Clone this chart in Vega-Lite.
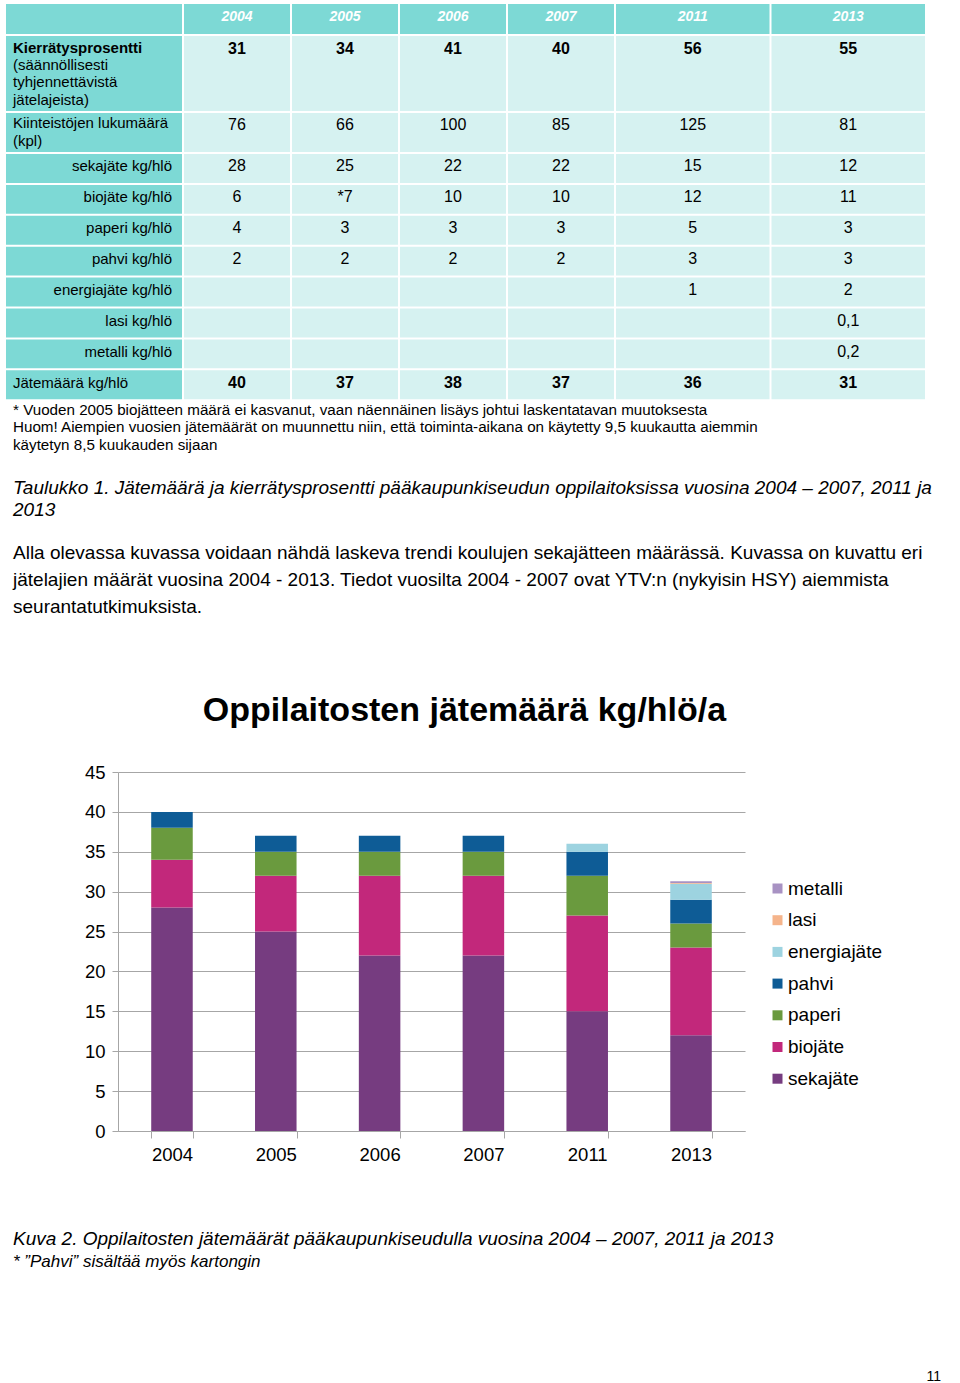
{
  "$schema": "https://vega.github.io/schema/vega-lite/v6.json",
  "background": "white",
  "padding": {"left": 5, "top": 3, "right": 0, "bottom": 0},
  "spacing": 0,
  "config": {"view": {"stroke": null}, "font": "Liberation Sans", "concat": {"spacing": 0}},
  "datasets": {
    "labels": [
      {"section": "header", "row": "header", "label": "", "sub": ""},
      {"section": "kierr", "row": "kierr", "label": "Kierrätysprosentti", "sub": "(säännöllisesti\ntyhjennettävistä\njätelajeista)"},
      {"section": "kiint", "row": "kiint", "label": "Kiinteistöjen lukumäärä\n(kpl)", "sub": ""},
      {"section": "rest", "row": "sekajäte kg/hlö", "label": "sekajäte kg/hlö", "sub": ""},
      {"section": "rest", "row": "biojäte kg/hlö", "label": "biojäte kg/hlö", "sub": ""},
      {"section": "rest", "row": "paperi kg/hlö", "label": "paperi kg/hlö", "sub": ""},
      {"section": "rest", "row": "pahvi kg/hlö", "label": "pahvi kg/hlö", "sub": ""},
      {"section": "rest", "row": "energiajäte kg/hlö", "label": "energiajäte kg/hlö", "sub": ""},
      {"section": "rest", "row": "lasi kg/hlö", "label": "lasi kg/hlö", "sub": ""},
      {"section": "rest", "row": "metalli kg/hlö", "label": "metalli kg/hlö", "sub": ""},
      {"section": "rest", "row": "Jätemäärä kg/hlö", "label": "Jätemäärä kg/hlö", "sub": ""}
    ],
    "cells": [
      {"section": "header", "row": "header", "year": "2004", "value": "2004"},
      {"section": "header", "row": "header", "year": "2005", "value": "2005"},
      {"section": "header", "row": "header", "year": "2006", "value": "2006"},
      {"section": "header", "row": "header", "year": "2007", "value": "2007"},
      {"section": "header", "row": "header", "year": "2011", "value": "2011"},
      {"section": "header", "row": "header", "year": "2013", "value": "2013"},
      {"section": "kierr", "row": "kierr", "year": "2004", "value": "31"},
      {"section": "kierr", "row": "kierr", "year": "2005", "value": "34"},
      {"section": "kierr", "row": "kierr", "year": "2006", "value": "41"},
      {"section": "kierr", "row": "kierr", "year": "2007", "value": "40"},
      {"section": "kierr", "row": "kierr", "year": "2011", "value": "56"},
      {"section": "kierr", "row": "kierr", "year": "2013", "value": "55"},
      {"section": "kiint", "row": "kiint", "year": "2004", "value": "76"},
      {"section": "kiint", "row": "kiint", "year": "2005", "value": "66"},
      {"section": "kiint", "row": "kiint", "year": "2006", "value": "100"},
      {"section": "kiint", "row": "kiint", "year": "2007", "value": "85"},
      {"section": "kiint", "row": "kiint", "year": "2011", "value": "125"},
      {"section": "kiint", "row": "kiint", "year": "2013", "value": "81"},
      {"section": "rest", "row": "sekajäte kg/hlö", "year": "2004", "value": "28"},
      {"section": "rest", "row": "sekajäte kg/hlö", "year": "2005", "value": "25"},
      {"section": "rest", "row": "sekajäte kg/hlö", "year": "2006", "value": "22"},
      {"section": "rest", "row": "sekajäte kg/hlö", "year": "2007", "value": "22"},
      {"section": "rest", "row": "sekajäte kg/hlö", "year": "2011", "value": "15"},
      {"section": "rest", "row": "sekajäte kg/hlö", "year": "2013", "value": "12"},
      {"section": "rest", "row": "biojäte kg/hlö", "year": "2004", "value": "6"},
      {"section": "rest", "row": "biojäte kg/hlö", "year": "2005", "value": "*7"},
      {"section": "rest", "row": "biojäte kg/hlö", "year": "2006", "value": "10"},
      {"section": "rest", "row": "biojäte kg/hlö", "year": "2007", "value": "10"},
      {"section": "rest", "row": "biojäte kg/hlö", "year": "2011", "value": "12"},
      {"section": "rest", "row": "biojäte kg/hlö", "year": "2013", "value": "11"},
      {"section": "rest", "row": "paperi kg/hlö", "year": "2004", "value": "4"},
      {"section": "rest", "row": "paperi kg/hlö", "year": "2005", "value": "3"},
      {"section": "rest", "row": "paperi kg/hlö", "year": "2006", "value": "3"},
      {"section": "rest", "row": "paperi kg/hlö", "year": "2007", "value": "3"},
      {"section": "rest", "row": "paperi kg/hlö", "year": "2011", "value": "5"},
      {"section": "rest", "row": "paperi kg/hlö", "year": "2013", "value": "3"},
      {"section": "rest", "row": "pahvi kg/hlö", "year": "2004", "value": "2"},
      {"section": "rest", "row": "pahvi kg/hlö", "year": "2005", "value": "2"},
      {"section": "rest", "row": "pahvi kg/hlö", "year": "2006", "value": "2"},
      {"section": "rest", "row": "pahvi kg/hlö", "year": "2007", "value": "2"},
      {"section": "rest", "row": "pahvi kg/hlö", "year": "2011", "value": "3"},
      {"section": "rest", "row": "pahvi kg/hlö", "year": "2013", "value": "3"},
      {"section": "rest", "row": "energiajäte kg/hlö", "year": "2004", "value": ""},
      {"section": "rest", "row": "energiajäte kg/hlö", "year": "2005", "value": ""},
      {"section": "rest", "row": "energiajäte kg/hlö", "year": "2006", "value": ""},
      {"section": "rest", "row": "energiajäte kg/hlö", "year": "2007", "value": ""},
      {"section": "rest", "row": "energiajäte kg/hlö", "year": "2011", "value": "1"},
      {"section": "rest", "row": "energiajäte kg/hlö", "year": "2013", "value": "2"},
      {"section": "rest", "row": "lasi kg/hlö", "year": "2004", "value": ""},
      {"section": "rest", "row": "lasi kg/hlö", "year": "2005", "value": ""},
      {"section": "rest", "row": "lasi kg/hlö", "year": "2006", "value": ""},
      {"section": "rest", "row": "lasi kg/hlö", "year": "2007", "value": ""},
      {"section": "rest", "row": "lasi kg/hlö", "year": "2011", "value": ""},
      {"section": "rest", "row": "lasi kg/hlö", "year": "2013", "value": "0,1"},
      {"section": "rest", "row": "metalli kg/hlö", "year": "2004", "value": ""},
      {"section": "rest", "row": "metalli kg/hlö", "year": "2005", "value": ""},
      {"section": "rest", "row": "metalli kg/hlö", "year": "2006", "value": ""},
      {"section": "rest", "row": "metalli kg/hlö", "year": "2007", "value": ""},
      {"section": "rest", "row": "metalli kg/hlö", "year": "2011", "value": ""},
      {"section": "rest", "row": "metalli kg/hlö", "year": "2013", "value": "0,2"},
      {"section": "rest", "row": "Jätemäärä kg/hlö", "year": "2004", "value": "40"},
      {"section": "rest", "row": "Jätemäärä kg/hlö", "year": "2005", "value": "37"},
      {"section": "rest", "row": "Jätemäärä kg/hlö", "year": "2006", "value": "38"},
      {"section": "rest", "row": "Jätemäärä kg/hlö", "year": "2007", "value": "37"},
      {"section": "rest", "row": "Jätemäärä kg/hlö", "year": "2011", "value": "36"},
      {"section": "rest", "row": "Jätemäärä kg/hlö", "year": "2013", "value": "31"}
    ],
    "footnote": [
      {"line": 1, "text": "* Vuoden 2005 biojätteen määrä ei kasvanut, vaan näennäinen lisäys johtui laskentatavan muutoksesta"},
      {"line": 2, "text": "Huom! Aiempien vuosien jätemäärät on muunnettu niin, että toiminta-aikana on käytetty 9,5 kuukautta aiemmin"},
      {"line": 3, "text": "käytetyn 8,5 kuukauden sijaan"}
    ],
    "tablecaption": [
      {"line": 1, "text": "Taulukko 1. Jätemäärä ja kierrätysprosentti pääkaupunkiseudun oppilaitoksissa vuosina 2004 – 2007, 2011 ja"},
      {"line": 2, "text": "2013"}
    ],
    "paragraph": [
      {"line": 1, "text": "Alla olevassa kuvassa voidaan nähdä laskeva trendi koulujen sekajätteen määrässä. Kuvassa on kuvattu eri"},
      {"line": 2, "text": "jätelajien määrät vuosina 2004 - 2013. Tiedot vuosilta 2004 - 2007 ovat YTV:n (nykyisin HSY) aiemmista"},
      {"line": 3, "text": "seurantatutkimuksista."}
    ],
    "figcaption": [
      {"line": 1, "text": "Kuva 2. Oppilaitosten jätemäärät pääkaupunkiseudulla vuosina 2004 – 2007, 2011 ja 2013"},
      {"line": 2, "text": "* ”Pahvi” sisältää myös kartongin"}
    ],
    "pagenumber": [
      {"line": 1, "text": "11"}
    ],
    "waste": [
      {"year": "2004", "type": "sekajäte", "value": 28},
      {"year": "2004", "type": "biojäte", "value": 6},
      {"year": "2004", "type": "paperi", "value": 4},
      {"year": "2004", "type": "pahvi", "value": 2},
      {"year": "2005", "type": "sekajäte", "value": 25},
      {"year": "2005", "type": "biojäte", "value": 7},
      {"year": "2005", "type": "paperi", "value": 3},
      {"year": "2005", "type": "pahvi", "value": 2},
      {"year": "2006", "type": "sekajäte", "value": 22},
      {"year": "2006", "type": "biojäte", "value": 10},
      {"year": "2006", "type": "paperi", "value": 3},
      {"year": "2006", "type": "pahvi", "value": 2},
      {"year": "2007", "type": "sekajäte", "value": 22},
      {"year": "2007", "type": "biojäte", "value": 10},
      {"year": "2007", "type": "paperi", "value": 3},
      {"year": "2007", "type": "pahvi", "value": 2},
      {"year": "2011", "type": "sekajäte", "value": 15},
      {"year": "2011", "type": "biojäte", "value": 12},
      {"year": "2011", "type": "paperi", "value": 5},
      {"year": "2011", "type": "pahvi", "value": 3},
      {"year": "2011", "type": "energiajäte", "value": 1},
      {"year": "2013", "type": "sekajäte", "value": 12},
      {"year": "2013", "type": "biojäte", "value": 11},
      {"year": "2013", "type": "paperi", "value": 3},
      {"year": "2013", "type": "pahvi", "value": 3},
      {"year": "2013", "type": "energiajäte", "value": 2},
      {"year": "2013", "type": "lasi", "value": 0.1},
      {"year": "2013", "type": "metalli", "value": 0.2}
    ]
  },
  "vconcat": [
    {
      "spacing": 0,
      "vconcat": [
        {
          "spacing": 0,
          "hconcat": [
            {
              "width": 178, "height": 32,
              "data": {"name": "labels"},
              "transform": [{"filter": {"field": "section", "equal": "header"}}],
              "encoding": {"y": {"field": "row", "type": "nominal", "axis": null, "scale": {"paddingInner": 0, "paddingOuter": 0.0333}}},
              "layer": [{"mark": {"type": "rect", "fill": "#7DD9D5"}, "encoding": {"x": {"field": "section", "type": "nominal", "axis": null, "scale": {"paddingInner": 0, "paddingOuter": 0.00568}}}}]
            },
            {
              "width": 432, "height": 32,
              "data": {"name": "cells"},
              "transform": [{"filter": {"field": "section", "equal": "header"}}, {"filter": {"field": "year", "oneOf": ["2004", "2005", "2006", "2007"]}}],
              "encoding": {
                "x": {"field": "year", "type": "ordinal", "axis": null, "scale": {"paddingInner": 0.0185, "paddingOuter": 0.00926}},
                "y": {"field": "row", "type": "nominal", "axis": null, "scale": {"paddingInner": 0, "paddingOuter": 0.0333}}
              },
              "layer": [
                {"mark": {"type": "rect", "fill": "#7DD9D5"}},
                {"mark": {"type": "text", "color": "white", "fontSize": 14, "fontWeight": "bold", "fontStyle": "italic", "dy": -2}, "encoding": {"text": {"field": "value"}}}
              ]
            },
            {
              "width": 311, "height": 32,
              "data": {"name": "cells"},
              "transform": [{"filter": {"field": "section", "equal": "header"}}, {"filter": {"field": "year", "oneOf": ["2011", "2013"]}}],
              "encoding": {
                "x": {"field": "year", "type": "ordinal", "axis": null, "scale": {"paddingInner": 0.01286, "paddingOuter": 0.00643}},
                "y": {"field": "row", "type": "nominal", "axis": null, "scale": {"paddingInner": 0, "paddingOuter": 0.0333}}
              },
              "layer": [
                {"mark": {"type": "rect", "fill": "#7DD9D5"}},
                {"mark": {"type": "text", "color": "white", "fontSize": 14, "fontWeight": "bold", "fontStyle": "italic", "dy": -2}, "encoding": {"text": {"field": "value"}}}
              ]
            }
          ]
        },
        {
          "spacing": 0,
          "hconcat": [
            {
              "width": 178, "height": 77,
              "data": {"name": "labels"},
              "transform": [{"filter": {"field": "section", "equal": "kierr"}}],
              "encoding": {"y": {"field": "row", "type": "nominal", "axis": null, "scale": {"paddingInner": 0, "paddingOuter": 0.01333}}},
              "layer": [
                {"mark": {"type": "rect", "fill": "#7DD9D5"}, "encoding": {"x": {"field": "section", "type": "nominal", "axis": null, "scale": {"paddingInner": 0, "paddingOuter": 0.00568}}}},
                {"mark": {"type": "text", "x": 8, "align": "left", "fontSize": 15, "fontWeight": "bold", "color": "black", "dy": -26}, "encoding": {"text": {"field": "label"}}},
                {"mark": {"type": "text", "x": 8, "align": "left", "fontSize": 15, "color": "black", "lineBreak": "\n", "lineHeight": 17.5, "dy": -9}, "encoding": {"text": {"field": "sub"}}}
              ]
            },
            {
              "width": 432, "height": 77,
              "data": {"name": "cells"},
              "transform": [{"filter": {"field": "section", "equal": "kierr"}}, {"filter": {"field": "year", "oneOf": ["2004", "2005", "2006", "2007"]}}],
              "encoding": {
                "x": {"field": "year", "type": "ordinal", "axis": null, "scale": {"paddingInner": 0.0185, "paddingOuter": 0.00926}},
                "y": {"field": "row", "type": "nominal", "axis": null, "scale": {"paddingInner": 0, "paddingOuter": 0.01333}}
              },
              "layer": [
                {"mark": {"type": "rect", "fill": "#D6F2F1"}},
                {"mark": {"type": "text", "color": "black", "fontSize": 16, "fontWeight": "bold", "dy": -25}, "encoding": {"text": {"field": "value"}}}
              ]
            },
            {
              "width": 311, "height": 77,
              "data": {"name": "cells"},
              "transform": [{"filter": {"field": "section", "equal": "kierr"}}, {"filter": {"field": "year", "oneOf": ["2011", "2013"]}}],
              "encoding": {
                "x": {"field": "year", "type": "ordinal", "axis": null, "scale": {"paddingInner": 0.01286, "paddingOuter": 0.00643}},
                "y": {"field": "row", "type": "nominal", "axis": null, "scale": {"paddingInner": 0, "paddingOuter": 0.01333}}
              },
              "layer": [
                {"mark": {"type": "rect", "fill": "#D6F2F1"}},
                {"mark": {"type": "text", "color": "black", "fontSize": 16, "fontWeight": "bold", "dy": -25}, "encoding": {"text": {"field": "value"}}}
              ]
            }
          ]
        },
        {
          "spacing": 0,
          "hconcat": [
            {
              "width": 178, "height": 41,
              "data": {"name": "labels"},
              "transform": [{"filter": {"field": "section", "equal": "kiint"}}],
              "encoding": {"y": {"field": "row", "type": "nominal", "axis": null, "scale": {"paddingInner": 0, "paddingOuter": 0.02564}}},
              "layer": [
                {"mark": {"type": "rect", "fill": "#7DD9D5"}, "encoding": {"x": {"field": "section", "type": "nominal", "axis": null, "scale": {"paddingInner": 0, "paddingOuter": 0.00568}}}},
                {"mark": {"type": "text", "x": 8, "align": "left", "fontSize": 15, "color": "black", "lineBreak": "\n", "lineHeight": 18, "dy": -9.5}, "encoding": {"text": {"field": "label"}}}
              ]
            },
            {
              "width": 432, "height": 41,
              "data": {"name": "cells"},
              "transform": [{"filter": {"field": "section", "equal": "kiint"}}, {"filter": {"field": "year", "oneOf": ["2004", "2005", "2006", "2007"]}}],
              "encoding": {
                "x": {"field": "year", "type": "ordinal", "axis": null, "scale": {"paddingInner": 0.0185, "paddingOuter": 0.00926}},
                "y": {"field": "row", "type": "nominal", "axis": null, "scale": {"paddingInner": 0, "paddingOuter": 0.02564}}
              },
              "layer": [
                {"mark": {"type": "rect", "fill": "#D6F2F1"}},
                {"mark": {"type": "text", "color": "black", "fontSize": 16, "dy": -8}, "encoding": {"text": {"field": "value"}}}
              ]
            },
            {
              "width": 311, "height": 41,
              "data": {"name": "cells"},
              "transform": [{"filter": {"field": "section", "equal": "kiint"}}, {"filter": {"field": "year", "oneOf": ["2011", "2013"]}}],
              "encoding": {
                "x": {"field": "year", "type": "ordinal", "axis": null, "scale": {"paddingInner": 0.01286, "paddingOuter": 0.00643}},
                "y": {"field": "row", "type": "nominal", "axis": null, "scale": {"paddingInner": 0, "paddingOuter": 0.02564}}
              },
              "layer": [
                {"mark": {"type": "rect", "fill": "#D6F2F1"}},
                {"mark": {"type": "text", "color": "black", "fontSize": 16, "dy": -8}, "encoding": {"text": {"field": "value"}}}
              ]
            }
          ]
        },
        {
          "spacing": 0,
          "hconcat": [
            {
              "width": 178, "height": 247.2,
              "data": {"name": "labels"},
              "transform": [{"filter": {"field": "section", "equal": "rest"}}],
              "encoding": {"y": {"field": "row", "type": "nominal", "sort": null, "axis": null, "scale": {"paddingInner": 0.0647, "paddingOuter": 0.03236}}},
              "layer": [
                {"mark": {"type": "rect", "fill": "#7DD9D5"}, "encoding": {"x": {"field": "section", "type": "nominal", "axis": null, "scale": {"paddingInner": 0, "paddingOuter": 0.00568}}}},
                {"transform": [{"filter": "datum.row !== 'Jätemäärä kg/hlö'"}], "mark": {"type": "text", "x": "width", "dx": -11, "align": "right", "fontSize": 15, "color": "black", "dy": -2}, "encoding": {"text": {"field": "label"}}},
                {"transform": [{"filter": "datum.row === 'Jätemäärä kg/hlö'"}], "mark": {"type": "text", "x": 8, "align": "left", "fontSize": 15, "color": "black", "dy": -2}, "encoding": {"text": {"field": "label"}}}
              ]
            },
            {
              "width": 432, "height": 247.2,
              "data": {"name": "cells"},
              "transform": [{"filter": {"field": "section", "equal": "rest"}}, {"filter": {"field": "year", "oneOf": ["2004", "2005", "2006", "2007"]}}],
              "encoding": {
                "x": {"field": "year", "type": "ordinal", "axis": null, "scale": {"paddingInner": 0.0185, "paddingOuter": 0.00926}},
                "y": {"field": "row", "type": "nominal", "sort": null, "axis": null, "scale": {"paddingInner": 0.0647, "paddingOuter": 0.03236}}
              },
              "layer": [
                {"mark": {"type": "rect", "fill": "#D6F2F1"}},
                {"transform": [{"filter": "datum.row !== 'Jätemäärä kg/hlö'"}], "mark": {"type": "text", "color": "black", "fontSize": 16, "dy": -2}, "encoding": {"text": {"field": "value"}}},
                {"transform": [{"filter": "datum.row === 'Jätemäärä kg/hlö'"}], "mark": {"type": "text", "color": "black", "fontSize": 16, "fontWeight": "bold", "dy": -2}, "encoding": {"text": {"field": "value"}}}
              ]
            },
            {
              "width": 311, "height": 247.2,
              "data": {"name": "cells"},
              "transform": [{"filter": {"field": "section", "equal": "rest"}}, {"filter": {"field": "year", "oneOf": ["2011", "2013"]}}],
              "encoding": {
                "x": {"field": "year", "type": "ordinal", "axis": null, "scale": {"paddingInner": 0.01286, "paddingOuter": 0.00643}},
                "y": {"field": "row", "type": "nominal", "sort": null, "axis": null, "scale": {"paddingInner": 0.0647, "paddingOuter": 0.03236}}
              },
              "layer": [
                {"mark": {"type": "rect", "fill": "#D6F2F1"}},
                {"transform": [{"filter": "datum.row !== 'Jätemäärä kg/hlö'"}], "mark": {"type": "text", "color": "black", "fontSize": 16, "dy": -2}, "encoding": {"text": {"field": "value"}}},
                {"transform": [{"filter": "datum.row === 'Jätemäärä kg/hlö'"}], "mark": {"type": "text", "color": "black", "fontSize": 16, "fontWeight": "bold", "dy": -2}, "encoding": {"text": {"field": "value"}}}
              ]
            }
          ]
        }
      ]
    },
    {
      "width": 936, "height": 52.5,
      "data": {"name": "footnote"},
      "mark": {"type": "text", "x": 8, "align": "left", "fontSize": 15.2, "color": "black"},
      "encoding": {
        "y": {"field": "line", "type": "ordinal", "axis": null, "scale": {"type": "band", "paddingInner": 0, "paddingOuter": 0}},
        "text": {"field": "text"}
      }
    },
    {
      "width": 936, "height": 67.3,
      "data": {"name": "tablecaption"},
      "mark": {"type": "text", "x": 8, "align": "left", "fontSize": 19, "fontStyle": "italic", "color": "black"},
      "encoding": {
        "y": {"field": "line", "type": "ordinal", "axis": null, "scale": {"type": "band", "paddingInner": 0, "paddingOuter": 0.53, "align": 1}},
        "text": {"field": "text"}
      }
    },
    {
      "spacing": 73,
      "vconcat": [
        {
          "width": 936, "height": 98.5,
          "data": {"name": "paragraph"},
          "mark": {"type": "text", "x": 8, "align": "left", "fontSize": 19, "color": "black"},
          "encoding": {
            "y": {"field": "line", "type": "ordinal", "axis": null, "scale": {"type": "band", "paddingInner": 0, "paddingOuter": 0.324, "align": 1}},
            "text": {"field": "text"}
          }
        },
        {
          "spacing": 63.5,
          "vconcat": [
            {
              "spacing": 0,
              "hconcat": [
                {
                  "width": 1, "height": 1,
                  "data": {"values": []},
                  "mark": {"type": "point"}
                },
                {
                  "width": 627, "height": 359,
                  "data": {"name": "waste"},
                  "title": {"text": "Oppilaitosten jätemäärä kg/hlö/a", "fontSize": 34, "fontWeight": "bold", "color": "black", "anchor": "middle", "dx": 33, "offset": 35},
                  "transform": [{"calculate": "indexof(['sekajäte', 'biojäte', 'paperi', 'pahvi', 'energiajäte', 'lasi', 'metalli'], datum.type)", "as": "stackrank"}],
                  "mark": {"type": "bar"},
                  "encoding": {
                    "x": {"field": "year", "type": "ordinal", "scale": {"paddingInner": 0.6, "paddingOuter": 0.32},
                      "axis": {"title": null, "labelAngle": 0, "labelFontSize": 18.5, "labelColor": "black", "tickBand": "extent", "tickSize": 7, "tickColor": "#A6A6A6", "domainColor": "#A6A6A6", "labelPadding": 7, "grid": false}},
                    "y": {"field": "value", "type": "quantitative", "stack": "zero", "scale": {"domain": [0, 45]},
                      "axis": {"title": null, "values": [0, 5, 10, 15, 20, 25, 30, 35, 40, 45], "labelFontSize": 18.5, "labelColor": "black", "tickSize": 6, "tickColor": "#A6A6A6", "domain": true, "domainColor": "#A6A6A6", "grid": true, "gridColor": "#A6A6A6", "gridOpacity": 1, "labelPadding": 7, "minExtent": 112}},
                    "order": {"field": "stackrank", "type": "quantitative", "sort": "ascending"},
                    "color": {"field": "type", "type": "nominal",
                      "scale": {"domain": ["metalli", "lasi", "energiajäte", "pahvi", "paperi", "biojäte", "sekajäte"], "range": ["#A892C3", "#F5B48B", "#9DD3E0", "#0E5C96", "#6A9A3E", "#C2287B", "#763C80"]},
                      "legend": {"orient": "none", "legendX": 763, "legendY": 876, "title": null, "symbolType": "square", "symbolSize": 100, "symbolStrokeWidth": 0, "labelFontSize": 19, "labelColor": "black", "rowPadding": 11.7, "labelOffset": 1, "padding": 0}}
                  }
                }
              ]
            },
            {
              "spacing": 94.5,
              "vconcat": [
                {
                  "width": 936, "height": 46,
                  "data": {"name": "figcaption"},
                  "encoding": {
                    "y": {"field": "line", "type": "ordinal", "axis": null, "scale": {"type": "band", "paddingInner": 0, "paddingOuter": 0}},
                    "text": {"field": "text"}
                  },
                  "layer": [
                    {"transform": [{"filter": "datum.line === 1"}], "mark": {"type": "text", "x": 8, "align": "left", "fontSize": 19, "fontStyle": "italic", "color": "black"}},
                    {"transform": [{"filter": "datum.line === 2"}], "mark": {"type": "text", "x": 8, "align": "left", "fontSize": 17, "fontStyle": "italic", "color": "black"}}
                  ]
                },
                {
                  "width": 936, "height": 18,
                  "data": {"name": "pagenumber"},
                  "mark": {"type": "text", "x": "width", "align": "right", "fontSize": 14, "color": "black"},
                  "encoding": {
                    "y": {"field": "line", "type": "ordinal", "axis": null, "scale": {"type": "band", "paddingInner": 0, "paddingOuter": 0}},
                    "text": {"field": "text"}
                  }
                }
              ]
            }
          ]
        }
      ]
    }
  ]
}
